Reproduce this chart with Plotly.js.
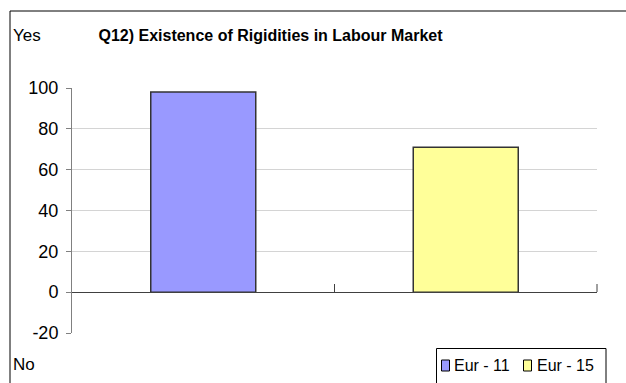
<!DOCTYPE html>
<html>
<head>
<meta charset="utf-8">
<script src="https://cdn.plot.ly/plotly-3.0.1.min.js"></script>
<style>
  html, body { margin: 0; padding: 0; background: #ffffff; }
  #chart { width: 626px; height: 383px; }
</style>
</head>
<body>
<div id="chart"></div>
<script>
// ---- data ----
const categories = ["Eur - 11", "Eur - 15"];
const seriesNames = ["Eur - 11", "Eur - 15"];
const seriesValues = [98, 71];
const yTickValues = [-20, 0, 20, 40, 60, 80, 100];
const chartTitle = "Q12) Existence of Rigidities in Labour Market";
const topLabel = "Yes";
const bottomLabel = "No";

const colors = ["#9999FF", "#FFFF99"];
const FONT = "Liberation Sans, Arial, sans-serif";

const traces = seriesNames.map((name, i) => ({
  type: "bar",
  name: name,
  x: [categories[i]],
  y: [seriesValues[i]],
  width: 0.4,
  marker: { color: colors[i], line: { color: "#333333", width: 1.5 } },
  hoverinfo: "none",
  showlegend: false
}));

// manual legend geometry (paper coords: plot area x 72..597, y 88..333)
const L = 72, R = 597, T = 88, B = 333;
const px = v => (v - L) / (R - L);
const py = v => (B - v) / (B - T);

const shapes = [
  // outer chart border
  { type: "rect", xref: "paper", yref: "paper", x0: px(10), x1: px(640), y0: py(400), y1: py(11),
    line: { color: "#000000", width: 1 }, fillcolor: "rgba(0,0,0,0)", layer: "below" },
  // right-end category tick on the zero axis
  { type: "line", xref: "paper", yref: "paper", x0: 1, x1: 1, y0: py(292), y1: py(284),
    line: { color: "#404040", width: 1 } },
  // legend box
  { type: "rect", xref: "paper", yref: "paper", x0: px(436.5), x1: px(606), y0: py(395), y1: py(348.5),
    line: { color: "#000000", width: 1 }, fillcolor: "#ffffff" },
  // legend swatches
  { type: "rect", xref: "paper", yref: "paper", x0: px(441.5), x1: px(449.5), y0: py(371), y1: py(360),
    line: { color: "#000000", width: 1 }, fillcolor: colors[0] },
  { type: "rect", xref: "paper", yref: "paper", x0: px(523.5), x1: px(531.5), y0: py(371), y1: py(360),
    line: { color: "#000000", width: 1 }, fillcolor: colors[1] }
];

const annotations = [
  { text: topLabel, xref: "paper", yref: "paper", x: px(11), y: py(35), xanchor: "left", yanchor: "middle",
    showarrow: false, font: { family: FONT, size: 17, color: "#000000" } },
  { text: bottomLabel, xref: "paper", yref: "paper", x: px(11), y: py(364), xanchor: "left", yanchor: "middle",
    showarrow: false, font: { family: FONT, size: 17, color: "#000000" } },
  { text: seriesNames[0], xref: "paper", yref: "paper", x: px(452), y: py(365), xanchor: "left", yanchor: "middle",
    showarrow: false, font: { family: FONT, size: 16, color: "#000000" } },
  { text: seriesNames[1], xref: "paper", yref: "paper", x: px(535), y: py(365), xanchor: "left", yanchor: "middle",
    showarrow: false, font: { family: FONT, size: 16, color: "#000000" } }
];

const layout = {
  width: 626, height: 383,
  margin: { l: L, r: 626 - R, t: T, b: 383 - B, pad: 0 },
  paper_bgcolor: "#ffffff",
  plot_bgcolor: "#ffffff",
  showlegend: false,
  font: { family: FONT, size: 17, color: "#000000" },
  title: {
    text: "<b>" + chartTitle + "</b>",
    font: { family: FONT, size: 16, color: "#000000" },
    x: 270.5 / 626, xref: "container", xanchor: "center",
    y: 1 - 35 / 383, yref: "container", yanchor: "middle"
  },
  xaxis: {
    type: "category",
    anchor: "free",
    position: 20 / 120,
    showticklabels: false,
    showgrid: false,
    zeroline: false,
    showline: true,
    linecolor: "#404040",
    linewidth: 1,
    ticks: "inside",
    tickson: "boundaries",
    ticklen: 8,
    tickcolor: "#404040",
    tickwidth: 1,
    range: [-0.5, 1.5],
    fixedrange: true
  },
  yaxis: {
    range: [-20, 100],
    tickvals: yTickValues,
    ticktext: yTickValues.map(String),
    showgrid: true,
    gridcolor: "#d4d4d4",
    gridwidth: 1,
    zeroline: false,
    showline: true,
    linecolor: "#808080",
    linewidth: 1,
    ticks: "outside",
    ticklen: 5,
    tickcolor: "#808080",
    ticklabelstandoff: 4,
    tickfont: { family: FONT, size: 18, color: "#000000" },
    fixedrange: true
  },
  shapes: shapes,
  annotations: annotations,
  bargap: 0.6
};

Plotly.newPlot("chart", traces, layout, { displayModeBar: false, staticPlot: true });
</script>
</body>
</html>
